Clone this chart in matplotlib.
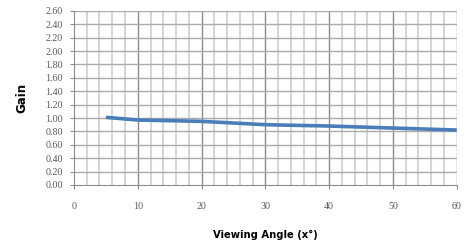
import matplotlib
matplotlib.use("Agg")
import matplotlib.pyplot as plt
import numpy as np

angles = [5, 10, 20, 30, 40, 50, 60]
gain = [1.01, 0.97, 0.95, 0.90, 0.88, 0.85, 0.82]
xticks = [0, 10, 20, 30, 40, 50, 60]
yticks = [round(0.2 * i, 2) for i in range(14)]

fig = plt.figure(figsize=(4.68, 2.43), dpi=100)
ax = fig.add_axes([0.158, 0.239, 0.818, 0.716])

ax.set_xlim(0, 60)
ax.set_ylim(0, 2.6)

# minor vertical grid every 2
for xv in np.arange(2, 60, 2):
    if xv % 10 != 0:
        ax.axvline(xv, color="#d6d6d6", lw=1.5, zorder=0)
for xv in xticks[1:]:
    ax.axvline(xv, color="#8c8c8c", lw=1.0, zorder=1)
for yv in yticks[1:]:
    ax.axhline(yv, color="#ababab", lw=1.0, zorder=1)

ax.plot(angles, gain, color="#4a7ebb", lw=2.6, solid_capstyle="butt", zorder=3)

ax.set_xticks(xticks)
ax.set_yticks(yticks)
ax.set_yticklabels([f"{v:.2f}" for v in yticks])
for lab in ax.get_xticklabels() + ax.get_yticklabels():
    lab.set_fontfamily("Liberation Serif")
    lab.set_fontsize(7.2)
    lab.set_color("#595959")
ax.tick_params(axis="both", direction="out", length=3, color="#8c8c8c", width=0.8)
ax.tick_params(axis="x", pad=9)
ax.tick_params(axis="y", pad=5)

for s in ["top", "right"]:
    ax.spines[s].set_visible(False)
for s in ["left", "bottom"]:
    ax.spines[s].set_color("#8c8c8c")
    ax.spines[s].set_linewidth(0.8)

ax.set_xlabel("Viewing Angle (x°)", fontfamily="DejaVu Sans", fontstretch="condensed",
              fontweight="bold", fontsize=8, labelpad=14)
ax.set_ylabel("Gain", fontfamily="DejaVu Sans", fontweight="bold", fontsize=8.5, labelpad=12)

fig.savefig("out.png", dpi=100)
